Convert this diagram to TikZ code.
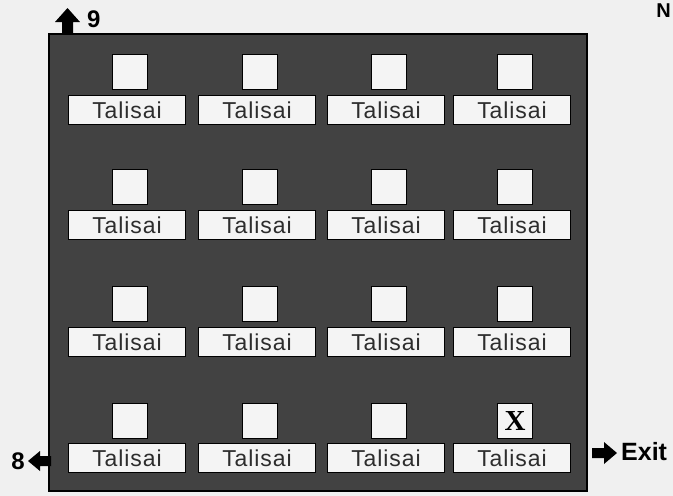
\documentclass[tikz,border=0pt]{standalone}
\usepackage{fontspec}
\setmainfont{Liberation Sans}
\newfontfamily\serifx{Liberation Serif}
\newfontfamily\tagfont[LetterSpace=4]{Liberation Sans}
\definecolor{paper}{RGB}{240,240,240}
\definecolor{floor}{RGB}{66,66,66}
\definecolor{boxfill}{RGB}{244,244,244}
\definecolor{ink}{RGB}{45,45,45}
\tikzset{
  seat/.style={draw=black, line width=1.6pt, fill=boxfill, minimum width=35pt, minimum height=35pt, inner sep=0pt},
  tag/.style={draw=black, line width=1.6pt, fill=boxfill, minimum width=117pt, minimum height=29pt, inner sep=0pt, text=ink, font=\tagfont\fontsize{23}{23}\selectfont},
  blockarrow/.style={fill=black, draw=none},
  bold label/.style={font=\fontsize{24}{24}\selectfont\bfseries, text=black, inner sep=0pt}
}
\begin{document}
\begin{tikzpicture}[x=1pt,y=-1pt]
\path[fill=paper] (0,0) rectangle (673,496);
\useasboundingbox (0,0) rectangle (673,496);
% room
\node[draw=black, line width=1.6pt, fill=floor, minimum width=538pt, minimum height=457pt, inner sep=0pt, anchor=north west] (room) at (48,33) {};
% seats and tags
\foreach \r/\sy/\ty in {1/72/110, 2/187/225, 3/304/342, 4/421/458}{
  \foreach \c/\sx/\tx in {1/130/127, 2/260/257, 3/389/386, 4/515/512}{
    \node[seat] (s\r\c) at (\sx,\sy) {};
    \node[tag] (t\r\c) at (\tx,\ty) {Talisai};
  }
}
\node[font=\serifx\bfseries\fontsize{29}{29}\selectfont, inner sep=0pt] (x44) at (s44) {X};
% up arrow 9
\fill[blockarrow] (55,22) -- (67.5,8) -- (80,22) -- (73,22) -- (73,33) -- (62,33) -- (62,22) -- cycle;
\node[bold label, anchor=west] (nine) at (87,19) {9};
% left arrow 8
\fill[blockarrow] (28,461) -- (40,451) -- (40,456) -- (51,456) -- (51,466) -- (40,466) -- (40,471) -- cycle;
\node[bold label, anchor=east] (eight) at (25,461) {8};
% exit arrow
\fill[blockarrow] (592,448) -- (604,448) -- (604,442) -- (617,453) -- (604,464) -- (604,458) -- (592,458) -- cycle;
\node[font=\fontsize{25}{25}\selectfont\bfseries, inner sep=0pt, anchor=west] (exit) at (621,452) {Exit};
% north mark
\node[font=\fontsize{20}{20}\selectfont\bfseries, inner sep=0pt, anchor=east] (north) at (671,11) {N};
\end{tikzpicture}
\end{document}
